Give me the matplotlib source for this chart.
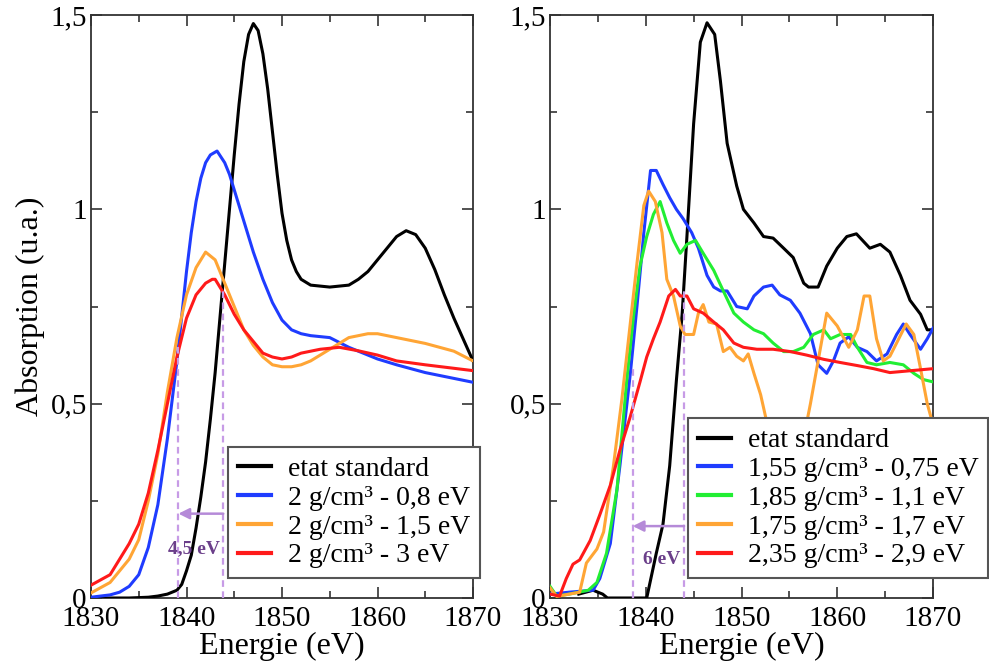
import matplotlib
matplotlib.use('Agg')
import matplotlib.pyplot as plt
from matplotlib.ticker import MultipleLocator

plt.rcParams['font.family'] = ['Liberation Serif', 'DejaVu Serif']

# ---- data ----
y_ticks = [0, 0.5, 1, 1.5]
y_tick_labels = ['0', '0,5', '1', '1,5']
x_ticks = [1830, 1840, 1850, 1860, 1870]

# left panel
l_black_x = [1830, 1834, 1836, 1837, 1838, 1839, 1839.5, 1840, 1840.5, 1841, 1841.5, 1842, 1842.5,
             1843, 1843.5, 1844, 1844.5, 1845, 1845.5, 1846, 1846.5, 1847, 1847.5, 1848, 1848.5,
             1849, 1849.5, 1850, 1850.5, 1851, 1851.5, 1852, 1853, 1855, 1857, 1858, 1859, 1860,
             1861, 1862, 1863, 1864, 1865, 1866, 1867, 1868, 1869, 1870]
l_black_y = [0, 0, 0.002, 0.005, 0.01, 0.02, 0.035, 0.07, 0.11, 0.18, 0.26, 0.35, 0.46,
             0.58, 0.72, 0.86, 1.0, 1.14, 1.27, 1.38, 1.45, 1.478, 1.46, 1.40, 1.31,
             1.20, 1.09, 0.99, 0.92, 0.87, 0.84, 0.82, 0.805, 0.80, 0.805, 0.82, 0.84, 0.87,
             0.90, 0.93, 0.945, 0.935, 0.90, 0.845, 0.78, 0.72, 0.665, 0.61]

l_blue_x = [1830, 1832, 1833, 1834, 1835, 1836, 1837, 1838, 1839, 1840, 1840.5, 1841, 1841.5,
            1842, 1842.5, 1843.2, 1844, 1844.5, 1845, 1845.5, 1846, 1847, 1848, 1849, 1850,
            1851, 1852, 1853, 1855, 1857, 1858, 1860, 1862, 1865, 1867, 1870]
l_blue_y = [0.002, 0.008, 0.015, 0.03, 0.06, 0.13, 0.24, 0.41, 0.61, 0.84, 0.94, 1.02, 1.08,
            1.12, 1.14, 1.15, 1.12, 1.09, 1.05, 1.01, 0.97, 0.89, 0.82, 0.76, 0.715,
            0.69, 0.68, 0.675, 0.67, 0.645, 0.635, 0.615, 0.60, 0.58, 0.57, 0.555]

l_orange_x = [1830, 1832, 1834, 1835, 1836, 1837, 1838, 1839, 1840, 1841, 1842, 1843, 1844,
              1845, 1846, 1847, 1848, 1849, 1850, 1851, 1852, 1853, 1855, 1857, 1859, 1860,
              1862, 1865, 1868, 1870]
l_orange_y = [0.013, 0.04, 0.10, 0.15, 0.25, 0.37, 0.53, 0.67, 0.78, 0.85, 0.89, 0.87, 0.81,
              0.75, 0.69, 0.65, 0.62, 0.60, 0.595, 0.595, 0.60, 0.61, 0.64, 0.67, 0.68, 0.68,
              0.67, 0.655, 0.635, 0.61]

l_red_x = [1830, 1832, 1834, 1835, 1836, 1837, 1838, 1839, 1840, 1841, 1842, 1842.7, 1843,
           1844, 1845, 1846, 1847, 1848, 1849, 1850, 1851, 1852, 1854, 1856, 1858, 1860,
           1862, 1865, 1870]
l_red_y = [0.033, 0.06, 0.14, 0.19, 0.27, 0.38, 0.50, 0.62, 0.72, 0.78, 0.81, 0.82, 0.82,
           0.78, 0.73, 0.69, 0.66, 0.63, 0.62, 0.615, 0.62, 0.63, 0.64, 0.645, 0.636, 0.625,
           0.61, 0.60, 0.585]

# right panel
r_black_x = [1830, 1833, 1834.5, 1835.5, 1836, 1840.1, 1841.1, 1841.8, 1842.5, 1843.2, 1843.8,
             1844.3, 1845, 1845.7, 1846.4, 1847.2, 1847.8, 1848.5, 1849.5, 1850.2, 1851.3,
             1852.3, 1853.3, 1854.4, 1855.4, 1856.5, 1857, 1858, 1858.9, 1860, 1861, 1862,
             1863.4, 1864.5, 1865.5, 1866.6, 1867.6, 1868.7, 1869.4, 1870]
r_black_y = [None, 0.01, 0.02, 0.01, 0.0, 0.0, 0.115, 0.19, 0.34, 0.56, 0.73,
             0.93, 1.22, 1.43, 1.48, 1.45, 1.33, 1.17, 1.06, 1.0, 0.965,
             0.93, 0.926, 0.90, 0.876, 0.81, 0.80, 0.80, 0.854, 0.90, 0.93, 0.937,
             0.90, 0.91, 0.89, 0.83, 0.766, 0.73, 0.69, 0.69]

r_blue_x = [1830, 1832, 1834.5, 1835.2, 1836.3, 1837.3, 1838.4, 1839.1, 1839.8, 1840.5, 1841.1,
            1841.8, 1842.5, 1843.2, 1843.9, 1844.8, 1845.5, 1846.4, 1847.1, 1847.8, 1848.5,
            1849.5, 1850.6, 1851.3, 1852.3, 1853.2, 1854, 1855.1, 1856.1, 1857.2, 1858,
            1858.9, 1859.6, 1860.3, 1861.2, 1862.1, 1863.1, 1864.1, 1865.2, 1866.2, 1866.9,
            1867.6, 1868.7, 1869.4, 1870]
r_blue_y = [0.01, 0.015, 0.02, 0.05, 0.14, 0.34, 0.58, 0.755, 0.94, 1.10, 1.10,
            1.064, 1.03, 1.0, 0.976, 0.94, 0.90, 0.83, 0.80, 0.79, 0.79,
            0.75, 0.744, 0.777, 0.80, 0.805, 0.78, 0.766, 0.733, 0.68, 0.60,
            0.578, 0.61, 0.656, 0.672, 0.645, 0.634, 0.61, 0.628, 0.678, 0.705,
            0.678, 0.64, 0.667, 0.694]

r_green_x = [1830, 1830.7, 1832, 1834, 1834.9, 1835.9, 1837, 1838, 1838.7, 1839.4, 1840.1,
             1840.8, 1841.5, 1842.2, 1842.9, 1843.6, 1844.3, 1845.2, 1846, 1847.1, 1848.1,
             1849.2, 1850.2, 1851.3, 1852.3, 1853.3, 1854.4, 1855.4, 1856.5, 1857.5, 1858.6,
             1859.3, 1860.3, 1861.4, 1862.1, 1863.1, 1864.1, 1865.5, 1866.9, 1868, 1869, 1870]
r_green_y = [0.03, 0.005, 0.01, 0.02, 0.04, 0.115, 0.28, 0.556, 0.72, 0.854, 0.93,
             0.987, 1.02, 0.965, 0.92, 0.887, 0.91, 0.92, 0.887, 0.843, 0.79,
             0.733, 0.71, 0.69, 0.68, 0.656, 0.634, 0.634, 0.645, 0.678, 0.69,
             0.667, 0.678, 0.678, 0.645, 0.606, 0.60, 0.606, 0.60, 0.578, 0.562, 0.556]

r_orange_x = [1830, 1830.7, 1833.1, 1833.8, 1834.9, 1835.6, 1836.6, 1837.5, 1838.4, 1839.1,
              1839.8, 1840.3, 1841, 1841.7, 1842.2, 1842.9, 1843.6, 1844.1, 1845, 1845.5,
              1846, 1846.6, 1847.4, 1848.1, 1848.8, 1849.5, 1850.2, 1850.7, 1851.3, 1852,
              1852.6, 1853.5, 1855, 1856, 1857.2, 1858.9, 1860, 1861.2, 1862.1, 1862.8,
              1863.4, 1864.1, 1864.8, 1865.5, 1866.2, 1867.2, 1868, 1868.7, 1869.4, 1870]
r_orange_y = [0.026, 0.004, 0.015, 0.09, 0.126, 0.17, 0.335, 0.51, 0.71, 0.865,
              1.01, 1.047, 1.02, 0.94, 0.82, 0.777, 0.70, 0.678, 0.678, 0.733,
              0.755, 0.71, 0.705, 0.634, 0.645, 0.622, 0.61, 0.628, 0.578, 0.523,
              0.457, 0.35, 0.25, 0.35, 0.50, 0.733, 0.70, 0.645, 0.69, 0.777,
              0.777, 0.667, 0.61, 0.622, 0.656, 0.705, 0.678, 0.59, 0.50, 0.446]

r_red_x = [1830, 1831, 1831.7, 1832.4, 1833.1, 1834.2, 1835.2, 1836.3, 1837.3, 1838.4, 1839.4,
           1840.1, 1840.8, 1841.5, 1842.4, 1843.1, 1843.6, 1844.3, 1845, 1846, 1847.1, 1848.1,
           1849.2, 1850.2, 1851.6, 1853.3, 1855.1, 1856.8, 1858.6, 1860.3, 1862.1, 1863.8,
           1865.5, 1867.3, 1870]
r_red_y = [0.01, 0.005, 0.05, 0.087, 0.098, 0.148, 0.214, 0.29, 0.38, 0.468, 0.556,
           0.62, 0.667, 0.71, 0.777, 0.794, 0.777, 0.777, 0.744, 0.733, 0.71, 0.69,
           0.656, 0.645, 0.64, 0.64, 0.634, 0.625, 0.614, 0.606, 0.598, 0.59,
           0.58, 0.584, 0.59]

left_labels = ['etat standard', '2 g/cm³ - 0,8 eV', '2 g/cm³ - 1,5 eV', '2 g/cm³ - 3 eV']
right_labels = ['etat standard', '1,55 g/cm³ - 0,75 eV', '1,85 g/cm³ - 1,1 eV',
                '1,75 g/cm³ - 1,7 eV', '2,35 g/cm³ - 2,9 eV']

# energy shift markers: (x_from, top_from, x_to, top_to, arrow_y, text, text_x, text_y)
left_shift = (1843.85, 0.80, 1839.15, 0.656, 0.217, '4,5 eV', 1840.8, 0.127)
right_shift = (1844.0, 0.79, 1838.64, 0.60, 0.185, '6 eV', 1841.7, 0.099)

C_BLACK = 'black'
C_BLUE = '#1f3cff'
C_ORANGE = '#ffa535'
C_RED = '#ff1a1a'
C_GREEN = '#22ee33'
C_DASH = '#c79be6'
C_ARROW = '#b58ad8'
C_TEXT = '#6b3f8a'

fig = plt.figure(figsize=(9.89, 6.69), dpi=100)
ax1 = fig.add_axes([91 / 989, 71 / 669, 382 / 989, 583 / 669])
ax2 = fig.add_axes([550 / 989, 71 / 669, 383 / 989, 583 / 669])

lw = 2.2


def style_axes(ax):
    ax.set_xlim(1830, 1870)
    ax.set_ylim(0, 1.5)
    ax.set_xticks(x_ticks)
    ax.set_xticklabels([str(t) for t in x_ticks])
    ax.set_yticks(y_ticks)
    ax.set_yticklabels(y_tick_labels)
    ax.xaxis.set_minor_locator(MultipleLocator(5))
    ax.yaxis.set_minor_locator(MultipleLocator(0.25))
    ax.tick_params(which='both', direction='in', top=True, right=True, colors='#333333',
                   labelcolor='black', labelsize=21, width=1.2)
    ax.tick_params(which='major', length=8, pad=3)
    ax.tick_params(axis='x', which='major', pad=6)
    ax.tick_params(which='minor', length=5)
    for s in ax.spines.values():
        s.set_color('#333333')
        s.set_linewidth(1.3)
    ax.set_xlabel('Energie (eV)', fontsize=23, labelpad=0)


def draw_shift(ax, sh):
    x_from, top_from, x_to, top_to, ay, txt, tx, ty = sh
    ax.plot([x_from, x_from], [0, top_from], ls=(0, (3, 2)), color=C_DASH, lw=1.6, zorder=4)
    ax.plot([x_to, x_to], [0, top_to], ls=(0, (3, 2)), color=C_DASH, lw=1.6, zorder=4)
    ax.annotate('', xy=(x_to, ay), xytext=(x_from, ay),
                arrowprops=dict(arrowstyle='-|>', color=C_ARROW, lw=1.8,
                                mutation_scale=16, shrinkA=0, shrinkB=0), zorder=4)
    ax.text(tx, ty, txt, color=C_TEXT, fontsize=14, fontweight='bold',
            ha='center', va='center', zorder=5)


def make_legend(ax, x0):
    leg = ax.legend(loc='lower left', bbox_to_anchor=(x0, 0.034), borderaxespad=0,
                    fontsize=20, frameon=True, fancybox=False, framealpha=1,
                    edgecolor='#555555', handlelength=1.2, labelspacing=0.12,
                    borderpad=0.35, handletextpad=0.6)
    leg.get_frame().set_linewidth(1.5)
    leg.set_zorder(10)
    for line in leg.get_lines():
        line.set_linewidth(3)
    return leg


# left panel
ax1.plot(l_black_x, l_black_y, color=C_BLACK, lw=lw, label=left_labels[0], zorder=3)
ax1.plot(l_blue_x, l_blue_y, color=C_BLUE, lw=lw, label=left_labels[1], zorder=3)
ax1.plot(l_orange_x, l_orange_y, color=C_ORANGE, lw=lw, label=left_labels[2], zorder=3)
ax1.plot(l_red_x, l_red_y, color=C_RED, lw=lw, label=left_labels[3], zorder=3)
draw_shift(ax1, left_shift)
style_axes(ax1)
ax1.set_ylabel('Absorption (u.a.)', fontsize=23, labelpad=4)
make_legend(ax1, 0.3586)

# right panel
ax2.plot(r_black_x, [v if v is not None else float('nan') for v in r_black_y],
         color=C_BLACK, lw=lw, label=right_labels[0], zorder=3)
ax2.plot(r_blue_x, r_blue_y, color=C_BLUE, lw=lw, label=right_labels[1], zorder=3)
ax2.plot(r_green_x, r_green_y, color=C_GREEN, lw=lw, label=right_labels[2], zorder=3)
ax2.plot(r_orange_x, r_orange_y, color=C_ORANGE, lw=lw, label=right_labels[3], zorder=3)
ax2.plot(r_red_x, r_red_y, color=C_RED, lw=lw, label=right_labels[4], zorder=3)
draw_shift(ax2, right_shift)
style_axes(ax2)
make_legend(ax2, 0.360)

fig.savefig('out.png', dpi=100)
